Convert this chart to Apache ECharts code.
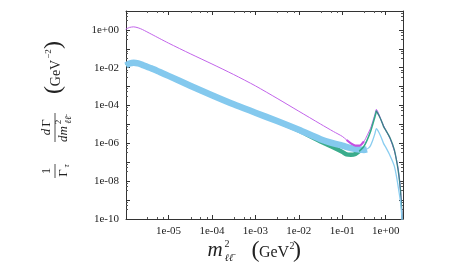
<!DOCTYPE html>
<html>
<head>
<meta charset="utf-8">
<script src="https://cdn.jsdelivr.net/npm/echarts@6/dist/echarts.min.js"></script>
<style>html,body{margin:0;padding:0;background:#fff;}#c{width:473px;height:266px;}</style>
</head>
<body>
<div id="c"></div>
<script>
// ---- data (x in GeV^2, y in GeV^-2) ----
const xPurple = [1.05e-6,1.26e-6,1.58e-6,2.0e-6,2.5e-6,4.0e-6,6.3e-6,1e-5,3.16e-5,1e-4,3.16e-4,1e-3,3.16e-3,1e-2,3.16e-2,0.063,0.1,0.126,0.158,0.2,0.251,0.316,0.37,0.447,0.5,0.562,0.61,0.708,0.794,1.0,1.26,1.58,1.82,2.0,2.19,2.34,2.5];
const yPurple = [1.10,1.35,1.45,1.29,1.05,0.60,0.347,0.20,0.055,0.0158,4.37e-3,1.10e-3,2.40e-4,5.0e-5,1.05e-5,4.2e-6,2.34e-6,1.51e-6,1.0e-6,7.6e-7,7.6e-7,1.26e-6,2.5e-6,6.3e-6,1.38e-5,3.3e-5,6.3e-5,3.16e-5,1.58e-5,5.0e-6,1.78e-6,4.0e-7,1.0e-7,2.5e-8,3.2e-9,2.5e-10,1e-11];

const xPurpleMin = [0.126,0.158,0.2,0.251,0.316];
const yPurpleMin = [1.51e-6,1.0e-6,7.6e-7,7.6e-7,1.26e-6];

const xBlueBand = [1.05e-6,1.26e-6,1.58e-6,2.0e-6,2.5e-6,4.0e-6,6.3e-6,1e-5,3.16e-5,1e-4,3.16e-4,1e-3,3.16e-3,1e-2,3.16e-2,0.063,0.1,0.158,0.251,0.316,0.37];
const yBlueBand = [0.0132,0.0166,0.0186,0.0170,0.0141,9.3e-3,5.9e-3,3.7e-3,1.12e-3,3.55e-4,1.17e-4,4.2e-5,1.51e-5,5.2e-6,1.66e-6,1.0e-6,7.6e-7,5.6e-7,4.7e-7,4.5e-7,4.8e-7];

const xBlueLine = [0.355,0.40,0.447,0.5,0.562,0.61,0.708,0.794,0.89,1.0,1.26,1.58,1.82,2.0,2.19,2.34,2.5];
const yBlueLine = [4.8e-7,5.6e-7,7.6e-7,1.41e-6,3.16e-6,6.0e-6,3.55e-6,2.0e-6,1.0e-6,6.3e-7,2.24e-7,6.3e-8,1.26e-8,3.2e-9,7.9e-10,1.6e-10,1e-11];

const xGreenBand = [1.05e-6,1.26e-6,1.58e-6,2.0e-6,2.5e-6,4.0e-6,6.3e-6,1e-5,3.16e-5,1e-4,3.16e-4,1e-3,3.16e-3,1e-2,3.16e-2,0.063,0.1,0.126,0.158,0.2,0.251,0.282];
const yGreenBand = [0.0132,0.0166,0.0186,0.0170,0.0141,9.3e-3,5.9e-3,3.7e-3,1.12e-3,3.55e-4,1.17e-4,4.2e-5,1.51e-5,4.8e-6,1.26e-6,6.0e-7,3.55e-7,2.6e-7,2.5e-7,2.75e-7,4.0e-7,5.2e-7];

const xGreenRise = [0.251,0.316,0.37,0.447,0.5,0.562,0.61];
const yGreenRise = [4.0e-7,7.1e-7,1.41e-6,4.2e-6,1.0e-5,2.5e-5,5.0e-5];

const xGreenFall = [0.61,0.708,0.794,0.89,1.0,1.26,1.58,1.82,2.0,2.19,2.34,2.5];
const yGreenFall = [5.0e-5,2.8e-5,1.58e-5,7.9e-6,5.0e-6,1.9e-6,4.5e-7,8.9e-8,2.2e-8,3.2e-9,2.5e-10,1e-11];

const xRange = [1.05e-6, 2.5];
const yRange = [1e-10, 10];

// ---- chart ----
const FONT = '"Liberation Serif","DejaVu Serif",serif';
const INK = '#222';
function expLabel(v, every) {
  const l = Math.log10(v), e = Math.round(l);
  if (Math.abs(l - e) > 1e-6) return '';
  if (every === 2 && e % 2 !== 0) return '';
  return '1e' + (e < 0 ? '-' : '+') + String(Math.abs(e)).padStart(2, '0');
}
function pairs(xs, ys) { return xs.map((x, i) => [x, ys[i]]); }
function line(xs, ys, color, width, z, cap) {
  return { type: 'line', data: pairs(xs, ys), showSymbol: false, symbol: 'none',
    smooth: 0.25, z: z, lineStyle: { color: color, width: width, cap: cap || 'round', join: 'round' },
    itemStyle: { color: color }, animation: false, clip: true };
}
const axisCommon = {
  axisLine: { show: true, lineStyle: { color: '#333', width: 1 } },
  axisTick: { show: true, inside: true, length: 4, lineStyle: { color: '#333' } },
  minorTick: { show: true, splitNumber: 4, length: 2, lineStyle: { color: '#555' } },
  splitLine: { show: false }, minorSplitLine: { show: false }
};
const chart = echarts.init(document.getElementById('c'), null, { renderer: 'canvas' });
const gTxt = (text, x, y, size, opts) => ({ type: 'text', x: x, y: y,
  style: { text: text, font: (opts && opts.italic ? 'italic ' : '') + size + 'px ' + FONT,
    fill: INK, textAlign: 'center', textVerticalAlign: 'middle', align: 'center', verticalAlign: 'middle' } });
const gBar = (x1, x2, y) => ({ type: 'line', shape: { x1: x1, y1: y, x2: x2, y2: y }, style: { stroke: INK, lineWidth: 0.8 } });

chart.setOption({
  animation: false,
  backgroundColor: '#fff',
  grid: { left: 126, right: 70, top: 11, bottom: 47, containLabel: false },
  xAxis: [
    Object.assign({ type: 'log', logBase: 10, min: xRange[0], max: xRange[1], position: 'bottom',
      axisLabel: { show: true, formatter: v => expLabel(v, 1), fontFamily: FONT, fontSize: 11, color: INK, margin: 7,
        showMinLabel: true, showMaxLabel: true } }, axisCommon),
    Object.assign({ type: 'log', logBase: 10, min: xRange[0], max: xRange[1], position: 'top',
      axisLabel: { show: false } }, axisCommon)
  ],
  yAxis: [
    Object.assign({ type: 'log', logBase: 10, min: yRange[0], max: yRange[1], interval: 1, position: 'left',
      axisLabel: { show: true, formatter: v => expLabel(v, 2), fontFamily: FONT, fontSize: 11, color: INK, margin: 7 } }, axisCommon),
    Object.assign({ type: 'log', logBase: 10, min: yRange[0], max: yRange[1], interval: 1, position: 'right',
      axisLabel: { show: false } }, axisCommon)
  ],
  series: [
    line(xPurple, yPurple, '#c264ea', 1, 2),
    line(xGreenBand, yGreenBand, '#3aac8c', 4.5, 3, 'butt'),
    line(xBlueBand, yBlueBand, '#84c9ee', 6.5, 4, 'butt'),
    line(xPurpleMin, yPurpleMin, '#c450e0', 2.2, 5, 'butt'),
    line(xGreenRise, yGreenRise, '#33a98a', 1.6, 6),
    line(xGreenFall, yGreenFall, '#3a8088', 1.4, 6),
    line(xBlueLine, yBlueLine, '#8acdf0', 1.3, 7)
  ],
  graphic: [
    { type: 'group', x: 56, y: 111, rotation: Math.PI / 2, children: [
      gTxt('1', -60, -9, 13),
      gBar(-67, -53, -1),
      gTxt('Γ', -62, 8, 13),
      gTxt('τ', -55, 11, 9, { italic: true }),
      gTxt('d', -21, -9, 13, { italic: true }),
      gTxt('Γ', -12, -9, 13),
      gBar(-31, -2, -1),
      gTxt('dm', -23, 8, 13, { italic: true }),
      gTxt('2', -11, 3, 9),
      gTxt('ℓℓ̄', -9, 13, 9, { italic: true }),
      gTxt('(', 21, -2, 24),
      gTxt('GeV', 38, 0, 14),
      gTxt('−2', 57, -7, 9),
      gTxt(')', 66, -2, 24)
    ] },
    gTxt('m', 215, 250, 21, { italic: true }),
    gTxt('2', 227, 244, 10),
    gTxt('ℓℓ̄', 229, 258, 10, { italic: true }),
    gTxt('(', 255.5, 251, 24),
    gTxt('GeV', 274, 253, 16),
    gTxt('2', 292, 246, 10),
    gTxt(')', 297, 251, 24)
  ]
});
</script>
</body>
</html>
